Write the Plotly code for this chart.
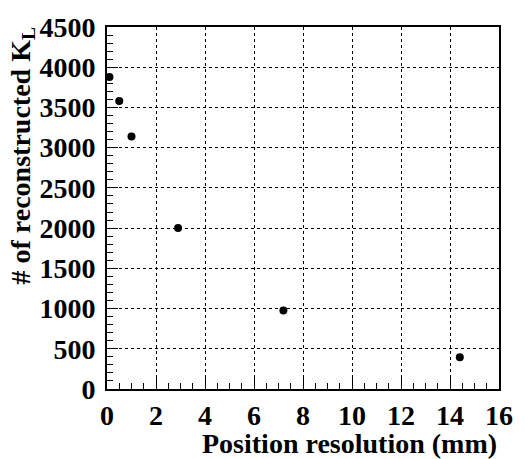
import plotly.graph_objects as go

resolution_mm = [0.1, 0.5, 1.0, 2.9, 7.2, 14.4]
n_reconstructed = [3880, 3580, 3140, 2000, 975, 395]

x_tick_values = [0, 2, 4, 6, 8, 10, 12, 14, 16]
y_tick_values = [0, 500, 1000, 1500, 2000, 2500, 3000, 3500, 4000, 4500]

x_title = "Position resolution (mm)"
y_title = "# of reconstructed K<sub>L</sub>"

FONT = "Liberation Serif"

fig = go.Figure()
fig.add_trace(go.Scatter(
    x=resolution_mm, y=n_reconstructed, mode="markers",
    marker=dict(color="black", size=8), showlegend=False, cliponaxis=False,
))

axis_common = dict(
    showline=True, linecolor="black", linewidth=2, mirror=True,
    ticks="inside", ticklen=11, tickwidth=1, tickcolor="black",
    showgrid=True, gridcolor="black", gridwidth=1, griddash="dot",
    zeroline=False,
)

tick_font = dict(family=FONT, size=28, color="black", weight="bold")

fig.update_xaxes(range=[0, 16], tickmode="array", tickvals=x_tick_values,
                 ticktext=[str(v) for v in x_tick_values], tickfont=tick_font,
                 minor=dict(ticks="inside", ticklen=6, dtick=0.5, tick0=0, tickcolor="black", showgrid=False),
                 ticklabelstandoff=0, **axis_common)
fig.update_yaxes(range=[0, 4500], tickmode="array", tickvals=y_tick_values,
                 ticktext=[str(v) for v in y_tick_values], tickfont=tick_font,
                 minor=dict(ticks="inside", ticklen=6, dtick=100, tick0=0, tickcolor="black", showgrid=False),
                 ticklabelstandoff=4, **axis_common)

fig.add_annotation(text=x_title, xref="paper", yref="paper", x=1, y=0,
                   xanchor="right", yanchor="top", yshift=-37, showarrow=False,
                   font=dict(family=FONT, size=28, color="black", weight="bold"))
fig.add_annotation(text=y_title, xref="paper", yref="paper", x=0, y=1,
                   xanchor="right", yanchor="top", xshift=-66, yshift=2, textangle=-90,
                   showarrow=False,
                   font=dict(family=FONT, size=28, color="black", weight="bold"))

fig.update_layout(
    width=525, height=459,
    margin=dict(l=107, r=25, t=20, b=70),
    paper_bgcolor="white", plot_bgcolor="white",
)

fig.write_html("out.html")
